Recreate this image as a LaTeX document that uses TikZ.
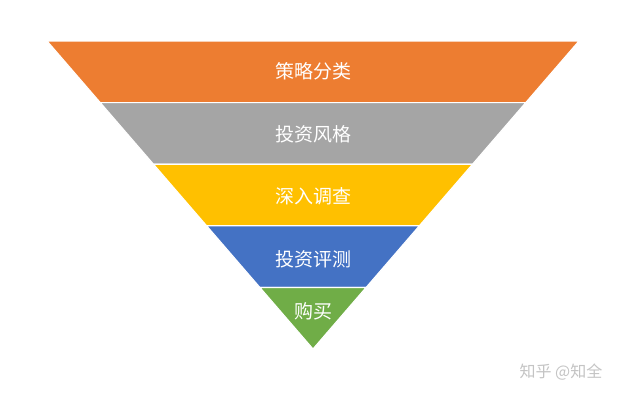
\documentclass[tikz,border=0pt]{standalone}
\usepackage{fontspec}
\newfontfamily\cjk{Noto Sans CJK SC}
\definecolor{layerorange}{HTML}{ED7D31}
\definecolor{layergray}{HTML}{A5A5A5}
\definecolor{layeryellow}{HTML}{FFC000}
\definecolor{layerblue}{HTML}{4472C4}
\definecolor{layergreen}{HTML}{70AD47}
\definecolor{markgray}{HTML}{C4C4C4}

\begin{document}
\begin{tikzpicture}
[x=1pt,y=-1pt,%
  layer/.style={draw=white,line width=1.2pt,line join=miter},%
  layertext/.style={text=white,font=\cjk\fontsize{19}{19}\selectfont,inner sep=0pt},%
  watermark/.style={text=markgray,font=\cjk\fontsize{16}{16}\selectfont,inner sep=0pt}]
\fill[white] (0,0) rectangle (627,400);
\useasboundingbox (0,0) rectangle (627,400);
\foreach \i/\col in {0/layerorange,1/layergray,2/layeryellow,3/layerblue,4/layergreen}
{
  \pgfmathsetmacro{\ya}{41+61.6*\i}
  \pgfmathsetmacro{\yb}{41+61.6*(\i+1)}
  \pgfmathsetmacro{\wa}{0.8636*(349-\ya)}
  \pgfmathsetmacro{\wb}{0.8636*(349-\yb)}
  \filldraw[layer,fill=\col] (313-\wa,\ya) -- (313+\wa,\ya)
    -- (313+\wb,\yb) -- (313-\wb,\yb) -- cycle;
}
\node[layertext] (l0) at (313,71) {策略分类};
\node[layertext] (l1) at (313,134) {投资风格};
\node[layertext] (l2) at (313,196) {深入调查};
\node[layertext] (l3) at (313,259) {投资评测};
\node[layertext] (l4) at (313,311) {购买};
\node[watermark] (zh) at (561,372) {知乎 @知全};
\end{tikzpicture}
\end{document}
